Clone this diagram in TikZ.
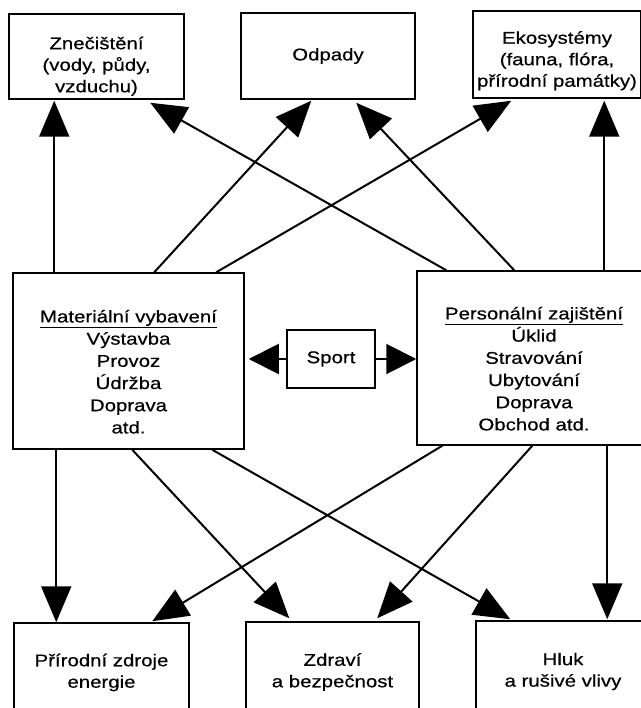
\documentclass[tikz,border=0pt]{standalone}
\usepackage{fontspec}
\setmainfont{Liberation Sans}[FakeStretch=1.2,FakeBold=0.5]
\usetikzlibrary{arrows.meta,calc}
\newcommand{\toppad}[1]{\rule{0pt}{#1}}
\begin{document}
\begin{tikzpicture}[x=1pt,y=-1pt,
  box/.style={draw, line width=1.5pt, inner sep=0pt, align=center,
    font=\fontsize{17}{21.5}\selectfont},
  bigbox/.style={box, font=\fontsize{17}{22.2}\selectfont},
  arr/.style={line width=2pt, -{Triangle[length=36pt,width=30pt]}},
  sarr/.style={line width=2pt, -{Triangle[length=30pt,width=30pt]}}]
\useasboundingbox (0,0) rectangle (640,708);
% top row
\node[box, minimum width=175pt, minimum height=85pt] (zn) at (96.5,56.5) {\toppad{32pt}Znečištění\\(vody, půdy,\\vzduchu)};
\node[box, minimum width=174pt, minimum height=86pt] (od) at (328,56) {Odpady};
\node[box, minimum width=168pt, minimum height=87pt] (eko) at (557,54.5) {\toppad{25pt}Ekosystémy\\(fauna, flóra,\\přírodní památky)};
% middle row
\node[bigbox, minimum width=231pt, minimum height=176pt] (mat) at (128.5,361) {\toppad{34pt}\underline{Materiální vybavení}\\Výstavba\\Provoz\\Údržba\\Doprava\\atd.};
\node[box, minimum width=88pt, minimum height=58pt] (sp) at (331,359) {Sport};
\node[bigbox, minimum width=234pt, minimum height=174pt] (pers) at (534,358) {\toppad{34pt}\underline{Personální zajištění}\\Úklid\\Stravování\\Ubytování\\Doprava\\Obchod atd.};
% bottom row
\node[box, minimum width=175pt, minimum height=99pt] (pz) at (101.5,672.5) {Přírodní zdroje\\energie};
\node[box, minimum width=173pt, minimum height=100pt] (zd) at (332.5,672) {Zdraví\\a bezpečnost};
\node[box, minimum width=174pt, minimum height=101pt] (hl) at (563,671.5) {Hluk\\a rušivé vlivy};
% upward arrows
\draw[arr] ($(mat.north west)+(42,0)$) -- ($(zn.south west)+(46,1)$);
\draw[arr] ($(mat.north west)+(142,0)$) -- ($(od.south west)+(71,1)$);
\draw[arr] ($(mat.north west)+(204,0)$) -- ($(eko.south west)+(39,2)$);
\draw[arr] ($(pers.north west)+(30,0)$) -- ($(zn.south west)+(142,3)$);
\draw[arr] ($(pers.north west)+(98,0)$) -- ($(od.south west)+(116,3)$);
\draw[arr] ($(pers.north west)+(188,0)$) -- ($(eko.south west)+(132,2)$);
% downward arrows
\draw[arr] ($(mat.south west)+(44,0)$) -- ($(pz.north west)+(43,0)$);
\draw[arr] ($(mat.south west)+(120,0)$) -- ($(zd.north west)+(44,-3)$);
\draw[arr] ($(mat.south west)+(200,0)$) -- ($(hl.north west)+(35,-1)$);
\draw[arr] ($(pers.south west)+(26,0)$) -- ($(pz.north west)+(139,-1)$);
\draw[arr] ($(pers.south west)+(116,0)$) -- ($(zd.north west)+(132,-3)$);
\draw[arr] ($(pers.south west)+(191,0)$) -- ($(hl.north west)+(132,-1)$);
% sport arrows
\draw[sarr, shorten >=4pt] (sp.west) -- (sp.west -| mat.east);
\draw[sarr] (sp.east) -- (sp.east -| pers.west);
\end{tikzpicture}
\end{document}
